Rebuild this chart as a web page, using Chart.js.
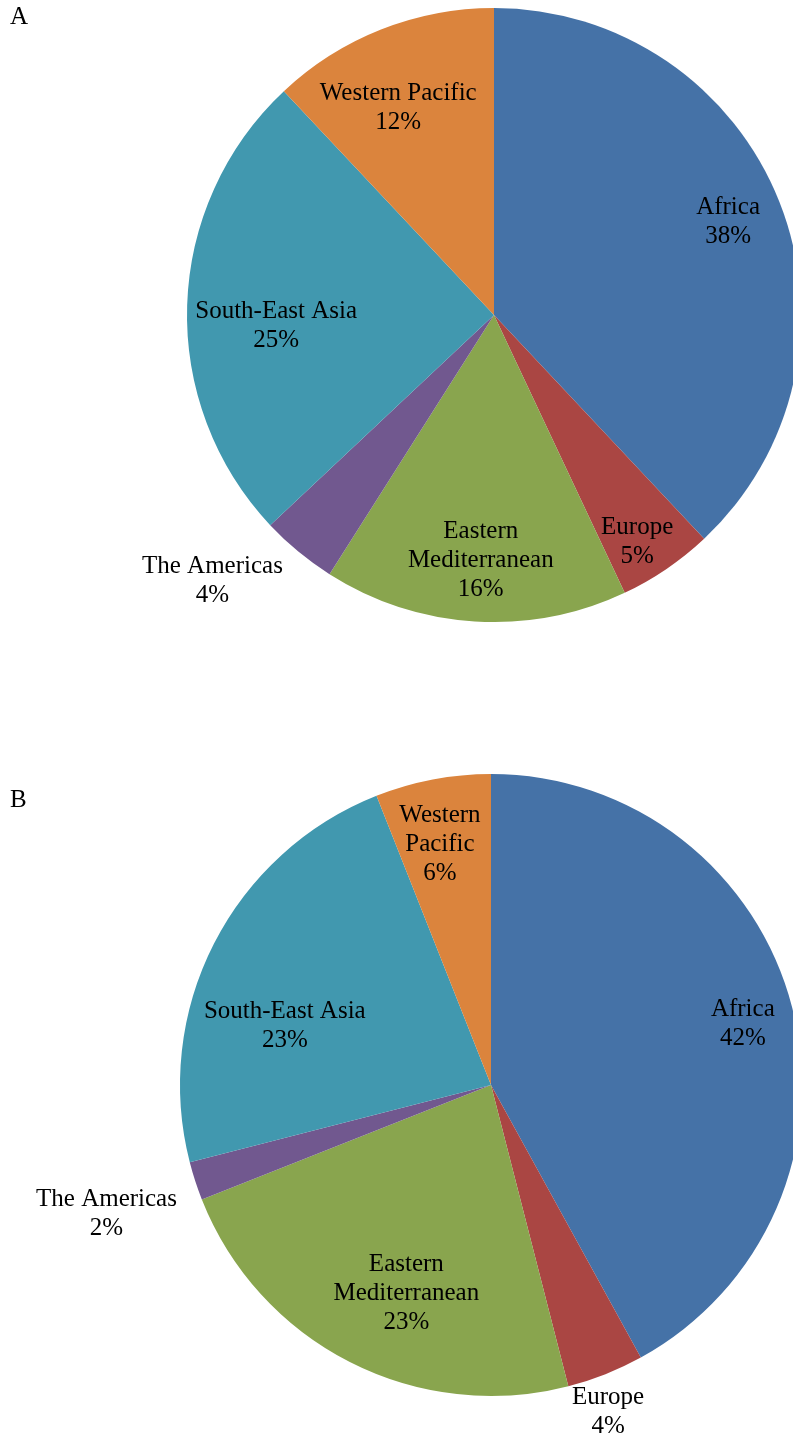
<!DOCTYPE html>
<html>
<head>
<meta charset="utf-8">
<script src="https://cdn.jsdelivr.net/npm/chart.js@4"></script>
<style>
  html, body { margin: 0; padding: 0; background: #fff; }
  #page { position: relative; width: 793px; height: 1439px; overflow: hidden; }
  #page canvas { position: absolute; left: 0; }
  .panel-tag { position: absolute; left: 10px; font: 25px "Liberation Serif", "Times New Roman", serif; color: #000; }
</style>
</head>
<body>
<div id="page">
  <canvas id="chartA" width="830" height="720" style="top:0"></canvas>
  <canvas id="chartB" width="830" height="719" style="top:720px"></canvas>
  <div class="panel-tag" style="top:2px">A</div>
  <div class="panel-tag" style="top:785px">B</div>
</div>
<script>
// Regions in drawing order, clockwise from 12 o'clock
const regionsA = ['Africa', 'Europe', ['Eastern', 'Mediterranean'], 'The Americas', 'South-East Asia', 'Western Pacific'];
const regionsB = ['Africa', 'Europe', ['Eastern', 'Mediterranean'], 'The Americas', 'South-East Asia', ['Western', 'Pacific']];

// Share of cases by WHO region (%)
const sharesA = [38, 5, 16, 4, 25, 12];
const sharesB = [42, 4, 23, 2, 23, 6];

const regionColors = ['#4572A7', '#AA4643', '#89A54E', '#71588F', '#4198AF', '#DB843D'];

// Label placement: fraction of radius along slice mid-angle, plus a small nudge in px
const labelPosA = [
    { f: 0.82, dx: 0,   dy: 0 },
    { f: 0.87, dx: -7,  dy: 6 },
    { f: 0.79, dx: 2,   dy: 3 },
    { f: 1.26, dx: -35, dy: -32 },
    { f: 0.71, dx: 0,   dy: 18 },
    { f: 0.75, dx: -11, dy: 7 }
];
const labelPosB = [
    { f: 0.836, dx: 0,   dy: 4 },
    { f: 1.11,  dx: -10, dy: 6 },
    { f: 0.72,  dx: 17,  dy: 9 },
    { f: 1.30,  dx: 0,   dy: 4 },
    { f: 0.69,  dx: -15, dy: 38 },
    { f: 0.79,  dx: -5,  dy: 1 }
];

const LABEL_FONT = '25px "Liberation Serif", "Times New Roman", serif';
const LINE_HEIGHT = 29;

// Draws "name / NN%" in the middle of each slice (or outside for thin ones)
const sliceLabels = {
    id: 'sliceLabels',
    afterDatasetsDraw(chart, args, opts) {
        const ctx = chart.ctx;
        const meta = chart.getDatasetMeta(0);
        const values = chart.data.datasets[0].data;
        ctx.save();
        ctx.font = LABEL_FONT;
        ctx.fillStyle = '#000';
        ctx.textAlign = 'center';
        ctx.textBaseline = 'middle';
        meta.data.forEach((arc, i) => {
            const p = opts.positions[i];
            const mid = (arc.startAngle + arc.endAngle) / 2;
            const x = arc.x + Math.cos(mid) * arc.outerRadius * p.f + p.dx;
            const y = arc.y + Math.sin(mid) * arc.outerRadius * p.f + p.dy;
            const name = chart.data.labels[i];
            const lines = (Array.isArray(name) ? name.slice() : [name]);
            lines.push(values[i] + '%');
            const top = y - (lines.length - 1) * LINE_HEIGHT / 2;
            lines.forEach((t, k) => ctx.fillText(t, x, top + k * LINE_HEIGHT));
        });
        ctx.restore();
    }
};

function buildPie(canvasId, labels, values, positions, padding) {
    const ctx = document.getElementById(canvasId).getContext('2d');
    return new Chart(ctx, {
        type: 'pie',
        data: {
            labels,
            datasets: [{
                data: values,
                backgroundColor: regionColors,
                borderWidth: 0,
                hoverOffset: 0
            }]
        },
        options: {
            responsive: false,
            animation: false,
            layout: { padding },
            events: [],
            plugins: {
                legend: { display: false },
                tooltip: { enabled: false },
                sliceLabels: { positions }
            }
        },
        plugins: [sliceLabels]
    });
}

buildPie('chartA', regionsA, sharesA, labelPosA, { left: 187, top: 8, right: 29, bottom: 98 });
buildPie('chartB', regionsB, sharesB, labelPosB, { left: 180, top: 54, right: 28, bottom: 43 });
</script>
</body>
</html>
